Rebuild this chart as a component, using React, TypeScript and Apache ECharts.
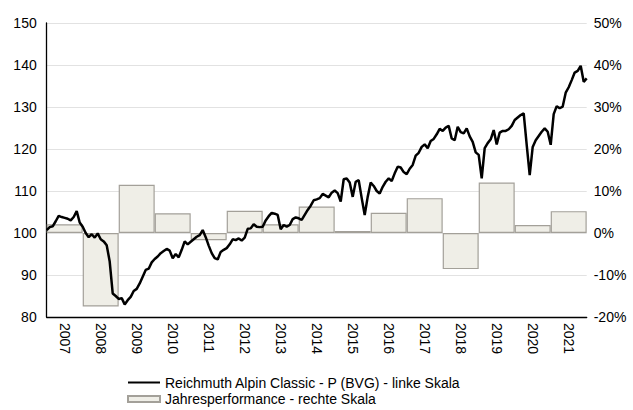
import React, { useEffect, useRef } from "react";
import * as echarts from "echarts";

const years = ["2007","2008","2009","2010","2011","2012","2013","2014","2015","2016","2017","2018","2019","2020","2021"];
const yearlyPerformance = [2.1, -17.5, 11.5, 4.7, -1.7, 5.3, 2.1, 6.3, 0.5, 4.8, 8.3, -8.6, 12.0, 1.9, 5.2];
// monthly index values, Jan 2007 onwards
const fundValues = [
  100.7, 101.4, 101.6, 102.8, 104.1, 103.8, 103.6, 103.4, 103.0, 103.8,
  105.2, 102.5, 101.5, 100.0, 99.0, 99.7, 98.9, 99.9, 98.5, 98.0,
  97.1, 93.2, 85.6, 85.0, 84.3, 84.5, 83.0, 84.0, 84.8, 86.2,
  86.7, 88.0, 89.6, 91.2, 91.5, 93.0, 93.8, 94.4, 95.2, 95.7,
  96.2, 95.8, 94.0, 95.0, 94.2, 96.0, 98.0, 97.3, 97.9, 98.5,
  99.1, 99.5, 100.7, 99.0, 97.0, 95.2, 94.0, 93.7, 95.5, 96.0,
  96.4, 97.3, 98.5, 98.3, 98.7, 98.2, 98.9, 101.0, 101.1, 102.1,
  101.5, 101.4, 101.5, 103.0, 104.0, 104.8, 104.6, 104.3, 100.9, 101.9,
  101.5, 101.9, 103.3, 103.7, 103.5, 103.1, 104.3, 105.5, 106.5, 107.8,
  108.0, 108.3, 109.3, 108.9, 108.5, 109.6, 110.1, 109.5, 107.5, 112.8,
  113.0, 112.0, 108.6, 112.2, 112.6, 108.3, 104.3, 108.6, 112.0, 111.2,
  110.0, 109.4, 111.0, 112.2, 113.0, 112.4, 114.2, 115.8, 115.6, 114.5,
  114.0, 115.3, 116.2, 118.4, 119.1, 120.5, 121.1, 120.2, 121.9, 122.4,
  123.5, 124.8, 124.3, 125.1, 125.5, 122.5, 122.1, 125.3, 124.0, 123.7,
  124.9, 123.0, 121.7, 119.2, 118.6, 113.0, 120.2, 121.4, 122.3, 124.5,
  121.1, 123.9, 124.3, 124.3, 124.7, 125.5, 126.9, 127.5, 128.1, 128.5,
  121.0, 113.8, 120.5, 122.1, 123.1, 124.1, 124.9, 124.1, 121.0, 128.3,
  130.2, 129.7, 130.1, 133.4, 134.7, 136.4, 138.2, 138.6, 139.8, 136.0,
  136.8
];
const leftTicks = { min: 80, max: 150, interval: 10 };
const rightTicks = { min: -20, max: 50, interval: 10 };

const lineName = "Reichmuth Alpin Classic - P (BVG) - linke Skala";
const barName = "Jahresperformance - rechte Skala";

export default function App() {
  const ref = useRef<HTMLDivElement>(null);
  useEffect(() => {
    if (!ref.current) return;
    const chart = echarts.init(ref.current, undefined, { renderer: "svg" });
    const font = "Liberation Sans, Arial, sans-serif";
    const months = fundValues.length - 1;
    chart.setOption({
      animation: false,
      textStyle: { fontFamily: font },
      grid: { left: 46.7, right: 46.3, top: 23, bottom: 93, containLabel: false },
      legend: {
        orient: "vertical",
        left: 127,
        top: 375.5,
        padding: 0,
        height: 40,
        itemWidth: 32,
        itemHeight: 6,
        itemGap: 2.5,
        textStyle: { fontSize: 14, color: "#000", fontFamily: font },
        data: [
          { name: lineName, itemStyle: { opacity: 0 } },
          { name: barName, icon: "rect" },
        ],
      },
      xAxis: [
        {
          type: "category",
          data: years,
          boundaryGap: true,
          axisLine: { show: true, onZero: false, lineStyle: { color: "#000", width: 1.3 } },
          axisTick: { show: false },
          axisLabel: { rotate: -90, fontSize: 14, color: "#000", margin: 6, fontFamily: font },
          splitLine: { show: false },
        },
        {
          type: "value",
          min: 0,
          max: months,
          show: false,
          splitLine: { show: false },
        },
      ],
      yAxis: [
        {
          type: "value",
          min: leftTicks.min,
          max: leftTicks.max,
          interval: leftTicks.interval,
          axisLine: { show: true, onZero: false, lineStyle: { color: "#000", width: 1.3 } },
          axisTick: { show: false },
          axisLabel: { fontSize: 14, color: "#000", margin: 10, fontFamily: font },
          splitLine: { show: true, lineStyle: { color: "#e2e2e2", width: 1 } },
        },
        {
          type: "value",
          min: rightTicks.min,
          max: rightTicks.max,
          interval: rightTicks.interval,
          position: "right",
          axisLine: { show: false },
          axisTick: { show: false },
          axisLabel: { fontSize: 14, color: "#000", margin: 7, formatter: "{value}%", fontFamily: font },
          splitLine: { show: false },
        },
      ],
      series: [
        {
          name: barName,
          type: "bar",
          xAxisIndex: 0,
          yAxisIndex: 1,
          data: yearlyPerformance,
          barWidth: "100%",
          barCategoryGap: "0%",
          itemStyle: { color: "#efeee7", borderColor: "#a3a099", borderWidth: 1.2 },
          z: 1,
        },
        {
          name: lineName,
          type: "line",
          xAxisIndex: 1,
          yAxisIndex: 0,
          data: fundValues.map((v, i) => [i, v]),
          showSymbol: false,
          symbol: "none",
          lineStyle: { color: "#000", width: 2.5 },
          itemStyle: { color: "#000" },
          z: 3,
        },
      ],
    });
    return () => chart.dispose();
  }, []);
  return <div ref={ref} style={{ position: "absolute", left: 0, top: 0, width: 633, height: 410 }} />;
}
